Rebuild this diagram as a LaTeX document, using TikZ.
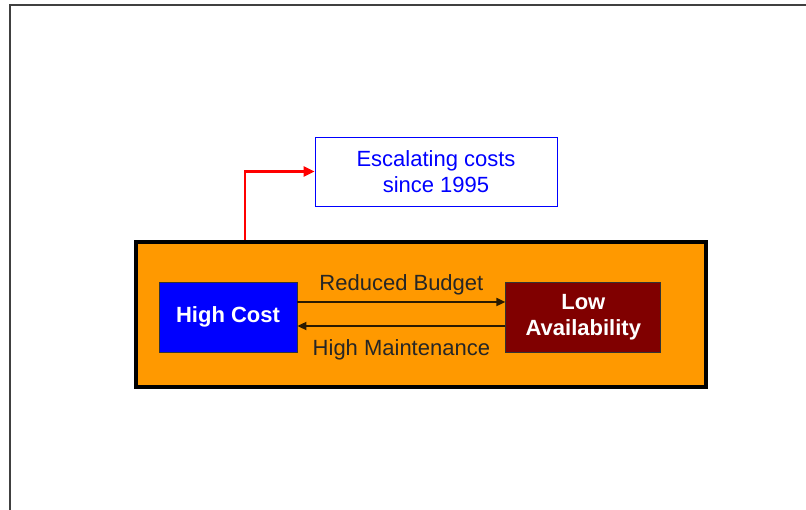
\documentclass[tikz,border=0pt]{standalone}
\usepackage{fontspec}
\setmainfont{Liberation Sans}
\usepackage{tikz}
\usetikzlibrary{positioning,arrows.meta}
\definecolor{loopfill}{HTML}{FF9900}
\definecolor{availfill}{HTML}{800000}
\definecolor{flowline}{HTML}{2A1A00}

\begin{document}
\begin{tikzpicture}[x=1pt, y=1pt,
    every node/.style = {font=\fontsize{22}{26}\selectfont, inner sep=0pt, align=center},
    state/.style = {draw=black!80, line width=0.8pt, text=white, font=\fontsize{22}{26}\selectfont\bfseries,
                    minimum height=70pt},
    flow/.style = {draw=flowline, line width=1.8pt, -{Triangle[length=9pt, width=8pt]}},
    lbl/.style = {text=black!85}]
  \useasboundingbox (0,0) rectangle (806,510);
  \draw[black!75, line width=1.6pt] (10,0) -- (10,505) -- (806,505);

  \node[draw=black, line width=4pt, fill=loopfill, minimum width=570pt, minimum height=145pt] (loop) at (421,195.5) {};
  \node[state, fill=blue, minimum width=138pt] (cost) at (228,193) {High Cost};
  \node[state, fill=availfill, minimum width=155pt, right=208pt of cost] (avail) {Low\\Availability};

  \node[draw=blue, line width=0.8pt, text=blue, minimum width=242pt, minimum height=69pt] (esc) at (436,338.5)
    {Escalating costs\\since 1995};

  \draw[flow] ([yshift=15pt]cost.east) -- ([yshift=15pt]avail.west)
    node[lbl, midway, above=6pt] (rb) {Reduced Budget};
  \draw[flow] ([yshift=-9pt]avail.west) -- ([yshift=-9pt]cost.east)
    node[lbl, midway, below=13pt] (hm) {High Maintenance};

  \coordinate (s) at ([xshift=111pt]loop.north west);
  \draw[red, line width=2.4pt, -{Triangle[length=11pt, width=10pt]}] (s) |- (esc.west);
\end{tikzpicture}
\end{document}
